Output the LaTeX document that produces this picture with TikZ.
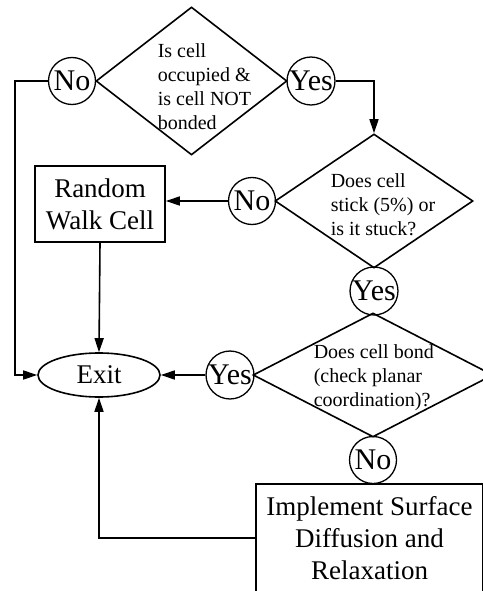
\documentclass[tikz,border=0pt]{standalone}
\usepackage{fontspec}
\setmainfont{Liberation Serif}
\usetikzlibrary{shapes.geometric,arrows.meta}
\begin{document}
\begin{tikzpicture}[x=1pt,y=-1pt,line width=1.6pt,
  big/.style={font=\fontsize{27}{32}\selectfont},
  small/.style={font=\fontsize{20}{24}\selectfont,align=left,inner sep=0},
  dia/.style={diamond,draw,inner sep=0},
  yn/.style={circle,draw,line width=1.3pt,inner sep=0,minimum size=47pt,font=\fontsize{30}{32}\selectfont},
  boxx/.style={rectangle,draw,inner sep=0,align=center,big},
  arr/.style={-{Triangle[length=14pt,width=9pt]}}]
\useasboundingbox (0,0) rectangle (482,591);
% decisions
\node[dia,minimum width=191pt,minimum height=148pt] (d1) at (191.5,81) {};
\node[small,anchor=west] (t1) at (157,87) {Is cell\\occupied \&\\is cell NOT\\bonded};
\node[dia,minimum width=198pt,minimum height=134pt] (d2) at (374,201) {};
\node[small,anchor=west] (t2) at (330,205) {Does cell\\stick (5\%) or\\is it stuck?};
\node[dia,minimum width=240pt,minimum height=124pt] (d3) at (373,375) {};
\node[small,anchor=west] (t3) at (313,378) {Does cell bond\\(check planar\\coordination)?};
% answers
\node[yn] (no1) at (72,81) {No};
\node[yn] (yes1) at (311,81) {Yes};
\node[yn] (no2) at (252,201) {No};
\node[yn] (yes2) at (374,291) {Yes};
\node[yn] (yes3) at (230,375) {Yes};
\node[yn] (no3) at (373,460) {No};
% actions
\node[boxx,minimum width=130pt,minimum height=76pt] (rw) at (100,204) {Random\\Walk Cell};
\node[ellipse,draw,inner sep=0,minimum width=122pt,minimum height=44pt,big] (exit) at (99,375) {Exit};
\node[boxx,minimum width=227pt,minimum height=108pt] (impl) at (369.5,538) {Implement Surface\\Diffusion and\\Relaxation};
% connectors
\draw[arr] (no1.west) -- (15,81) |- (exit.west);
\draw[arr] (yes1.east) -| (d2.north);
\draw[arr] (no2.west) -- (rw.east |- no2.west);
\draw[arr] (rw.south) -- (exit.north);
\draw[arr] (yes3.west) -- (exit.east);
\draw[arr] (impl.west) -| (exit.south);
\end{tikzpicture}
\end{document}
